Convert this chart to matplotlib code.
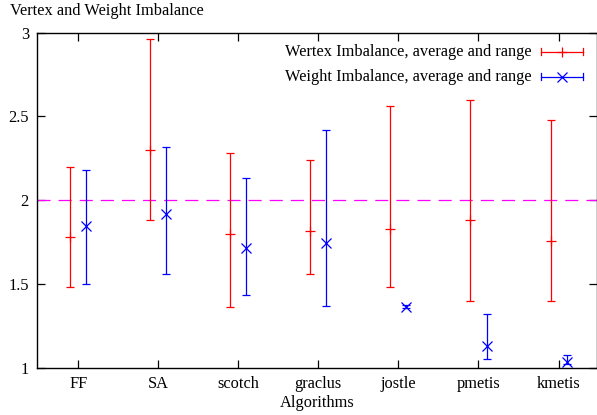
import matplotlib
matplotlib.use("Agg")
import matplotlib.pyplot as plt
import numpy as np

categories = ["FF", "SA", "scotch", "graclus", "jostle", "pmetis", "kmetis"]
vertex_avg = [1.78, 2.30, 1.80, 1.815, 1.83, 1.88, 1.755]
vertex_min = [1.48, 1.88, 1.36, 1.56, 1.48, 1.40, 1.40]
vertex_max = [2.20, 2.96, 2.28, 2.24, 2.56, 2.60, 2.48]
weight_avg = [1.845, 1.92, 1.715, 1.745, 1.365, 1.128, 1.036]
weight_min = [1.50, 1.557, 1.434, 1.37, 1.358, 1.05, 1.022]
weight_max = [2.18, 2.32, 2.13, 2.42, 1.372, 1.322, 1.076]
ref_level = 2.0
yticks = [1, 1.5, 2, 2.5, 3]
ytick_labels = ["1", "1.5", "2", "2.5", "3"]

plt.rcParams['font.family'] = ['Liberation Serif', 'DejaVu Serif']
plt.rcParams['lines.scale_dashes'] = False
FS = 11.8

W, H = 597, 415
fig = plt.figure(figsize=(W / 100, H / 100), dpi=100)
L, T, B = 37.3, 32.7, 367.7
ax = fig.add_axes([L / W, 1 - B / H, 1 - L / W, (B - T) / H])

x = np.arange(1, len(categories) + 1)
off = 0.1
va = np.array(vertex_avg)
wa = np.array(weight_avg)
ax.errorbar(x - off, va, yerr=[va - np.array(vertex_min), np.array(vertex_max) - va],
            fmt='+', color='#ff0000', ecolor='#ff0000', elinewidth=0.9, capsize=3.0,
            capthick=0.9, markersize=7, mew=0.9, zorder=3)
ax.errorbar(x + off, wa, yerr=[wa - np.array(weight_min), np.array(weight_max) - wa],
            fmt='x', color='#0000ff', ecolor='#0000ff', elinewidth=0.9, capsize=3.0,
            capthick=0.9, markersize=6.5, mew=0.9, zorder=3)
ax.axhline(ref_level, color='#ff00ff', lw=0.9, dashes=(9.4, 5.8), zorder=2)

ax.set_xlim(0.49, 7.48)
ax.set_ylim(1, 3)
ax.set_xticks(x)
ax.set_xticklabels(categories, fontsize=FS)
ax.set_yticks(yticks)
ax.set_yticklabels(ytick_labels, fontsize=FS)
ax.tick_params(direction='in', length=5.5, width=0.9, top=True, right=True, pad=6)
for s in ax.spines.values():
    s.set_linewidth(1.0)

# legend (manual, gnuplot style)
tx = 0.8833
rows = [(0.9433, "Wertex Imbalance, average and range", '#ff0000', '+', 7),
        (0.8687, "Weight Imbalance, average and range", '#0000ff', 'x', 6.5)]
for yy, lab, col, mk, ms in rows:
    ax.text(tx, yy, lab, transform=ax.transAxes, ha='right', va='center', fontsize=FS)
    ax.plot([0.900, 0.975], [yy, yy], transform=ax.transAxes, color=col, lw=0.9, clip_on=False)
    for xe in (0.900, 0.975):
        ax.plot([xe, xe], [yy - 0.011, yy + 0.011], transform=ax.transAxes, color=col, lw=0.9, clip_on=False)
    ax.plot([0.9375], [yy], transform=ax.transAxes, marker=mk, color=col, ms=ms, mew=0.9, clip_on=False)

fig.text(10 / W, 1 - 11 / H, "Vertex and Weight Imbalance", ha='left', va='center', fontsize=FS)
fig.text((L + W) / 2 / W, 1 - 403 / H, "Algorithms", ha='center', va='center', fontsize=FS)

fig.savefig("out.png", dpi=100)
